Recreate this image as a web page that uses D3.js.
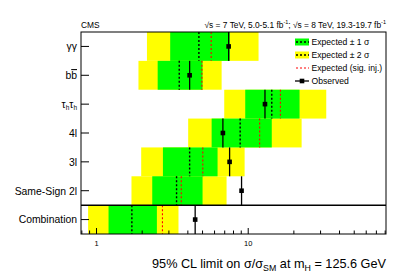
<!DOCTYPE html>
<html><head><meta charset="utf-8">
<script src="https://cdn.jsdelivr.net/npm/d3@7"></script>
<style>body{margin:0;background:#fff}svg{display:block;font-family:"Liberation Sans",Arial,sans-serif}</style>
</head><body><svg id="c" width="407" height="276"></svg>
<script>
const categories = ["γγ","bb̄","τhτh","4l","3l","Same-Sign 2l","Combination"];
const observed   = [7.43, 4.11, 12.9, 6.81, 7.54, 9.04, 4.47];
const expected   = [4.73, 3.51, 14.3, 8.85, 4.11, 3.37, 1.71];
const expInj     = [5.70, 4.95, 16.3, 11.9, 5.02, 3.62, 2.72];
const lo1 = [3.06, 2.53, 9.56, 5.74, 2.74, 2.33, 1.20];
const hi1 = [7.57, 5.00, 21.8, 14.3, 6.28, 5.00, 2.50];
const lo2 = [2.15, 1.89, 6.95, 4.02, 1.97, 1.70, 0.88];
const hi2 = [11.7, 6.68, 32.7, 22.5, 9.47, 7.20, 3.47];
const xTickLabels = [1, 10];
const legendLabels = ["Expected \u00b1 1 \u03c3","Expected \u00b1 2 \u03c3","Expected (sig. inj.)","Observed"];

const L=81, R=386, T=32, B=234;
const svg=d3.select("#c");
const x=d3.scaleLog().domain([0.79,81]).range([L,R]);
const y=d3.scaleBand().domain(d3.range(categories.length)).range([T,B]).padding(0);
const bw=y.bandwidth();
const idx=d3.range(categories.length);

const g=svg.append("g");
g.selectAll("rect.y2").data(idx).join("rect")
  .attr("x",i=>x(lo2[i])).attr("width",i=>x(hi2[i])-x(lo2[i]))
  .attr("y",i=>y(i)).attr("height",bw).attr("fill","#ffff00");
g.selectAll("rect.g1").data(idx).join("rect")
  .attr("x",i=>x(lo1[i])).attr("width",i=>x(hi1[i])-x(lo1[i]))
  .attr("y",i=>y(i)).attr("height",bw).attr("fill","#00ff00");
g.selectAll("line.ex").data(idx).join("line")
  .attr("x1",i=>x(expected[i])).attr("x2",i=>x(expected[i]))
  .attr("y1",i=>y(i)).attr("y2",i=>y(i)+bw)
  .attr("stroke","#000").attr("stroke-width",1.4).attr("stroke-dasharray","2,2");
g.selectAll("line.inj").data(idx).join("line")
  .attr("x1",i=>x(expInj[i])).attr("x2",i=>x(expInj[i]))
  .attr("y1",i=>y(i)).attr("y2",i=>y(i)+bw)
  .attr("stroke","#ff0000").attr("stroke-width",1.1).attr("stroke-dasharray","2,2");
g.selectAll("line.ob").data(idx).join("line")
  .attr("x1",i=>x(observed[i])).attr("x2",i=>x(observed[i]))
  .attr("y1",i=>y(i)).attr("y2",i=>y(i)+bw)
  .attr("stroke","#000").attr("stroke-width",1.3);
g.selectAll("rect.ob").data(idx).join("rect")
  .attr("x",i=>x(observed[i])-2.3).attr("y",i=>y(i)+bw/2-2.3)
  .attr("width",4.6).attr("height",4.6).attr("fill","#000");

// frame
svg.append("rect").attr("x",L).attr("y",T).attr("width",R-L).attr("height",B-T)
  .attr("fill","none").attr("stroke","#000").attr("stroke-width",1);
svg.append("line").attr("x1",L).attr("x2",R).attr("y1",y(6)).attr("y2",y(6))
  .attr("stroke","#000").attr("stroke-width",1.5);

// y ticks + labels
svg.selectAll("line.yt").data(idx).join("line")
  .attr("x1",L).attr("x2",L+8).attr("y1",i=>y(i)+bw/2).attr("y2",i=>y(i)+bw/2)
  .attr("stroke","#000").attr("stroke-width",1);
const lab=svg.selectAll("text.yl").data(idx).join("text")
  .attr("x",77).attr("y",i=>y(i)+bw/2+3.8).attr("text-anchor","end")
  .attr("font-size",10.4).attr("fill","#000");
lab.each(function(i){
  const t=d3.select(this), c=categories[i];
  if(c==="τhτh"){
    t.append("tspan").text("τ");
    t.append("tspan").attr("font-size",6.5).attr("dy",2).text("h");
    t.append("tspan").attr("dy",-2).text("τ");
    t.append("tspan").attr("font-size",6.5).attr("dy",2).text("h");
  } else if(c==="bb̄"){
    t.append("tspan").text("b");
    t.append("tspan").attr("text-decoration","overline").text("b");
  } else t.text(c);
});

// x axis ticks (log minor)
const ticks=[];
for(let d=0.1; d<=10; d*=10) for(let k=1;k<10;k++){const v=+(k*d).toPrecision(3); if(v>=0.79&&v<=81) ticks.push(v);}
svg.selectAll("line.xt").data(ticks).join("line")
  .attr("x1",v=>x(v)).attr("x2",v=>x(v))
  .attr("y1",B).attr("y2",v=>B-(xTickLabels.includes(v)?6:3.5))
  .attr("stroke","#000").attr("stroke-width",1);
svg.selectAll("text.xl").data(xTickLabels).join("text")
  .attr("x",v=>x(v)).attr("y",246).attr("text-anchor","middle")
  .attr("font-size",7.5).text(v=>v);

// axis title
const xt=svg.append("text").attr("x",R).attr("y",268).attr("text-anchor","end").attr("font-size",12.7);
xt.append("tspan").text("95% CL limit on σ/σ");
xt.append("tspan").attr("font-size",8.8).attr("dy",3).text("SM");
xt.append("tspan").attr("dy",-3).text(" at m");
xt.append("tspan").attr("font-size",8.8).attr("dy",3).text("H");
xt.append("tspan").attr("dy",-3).text(" = 125.6 GeV");

// header
svg.append("text").attr("x",81).attr("y",27.5).attr("font-size",8.4).text("CMS");
const hd=svg.append("text").attr("x",R).attr("y",27.5).attr("text-anchor","end").attr("font-size",8.4);
hd.append("tspan").text("√s = 7 TeV, 5.0-5.1 fb");
hd.append("tspan").attr("font-size",5.5).attr("dy",-3.5).text("-1");
hd.append("tspan").attr("dy",3.5).text("; √s = 8 TeV, 19.3-19.7 fb");
hd.append("tspan").attr("font-size",5.5).attr("dy",-3.5).text("-1");

// legend
const lg=svg.append("g");
const ly=[42,55,68,81], lx0=295, lx1=309;
lg.append("rect").attr("x",lx0).attr("y",ly[0]-3.5).attr("width",lx1-lx0).attr("height",7).attr("fill","#00ff00");
lg.append("rect").attr("x",lx0).attr("y",ly[1]-3.5).attr("width",lx1-lx0).attr("height",7).attr("fill","#ffff00");
[0,1].forEach(k=>lg.append("line").attr("x1",lx0+1).attr("x2",lx1).attr("y1",ly[k]).attr("y2",ly[k])
  .attr("stroke","#000").attr("stroke-width",1.4).attr("stroke-dasharray","2,2"));
lg.append("line").attr("x1",lx0+1).attr("x2",lx1).attr("y1",ly[2]).attr("y2",ly[2])
  .attr("stroke","#ff0000").attr("stroke-width",1).attr("stroke-dasharray","2,2");
lg.append("line").attr("x1",lx0).attr("x2",lx1).attr("y1",ly[3]).attr("y2",ly[3])
  .attr("stroke","#000").attr("stroke-width",1.3);
lg.append("rect").attr("x",(lx0+lx1)/2-2.3).attr("y",ly[3]-2.3).attr("width",4.6).attr("height",4.6).attr("fill","#000");
lg.selectAll("text").data(legendLabels).join("text")
  .attr("x",311.5).attr("y",(d,i)=>ly[i]+3).attr("font-size",8.6).text(d=>d);
</script></body></html>
